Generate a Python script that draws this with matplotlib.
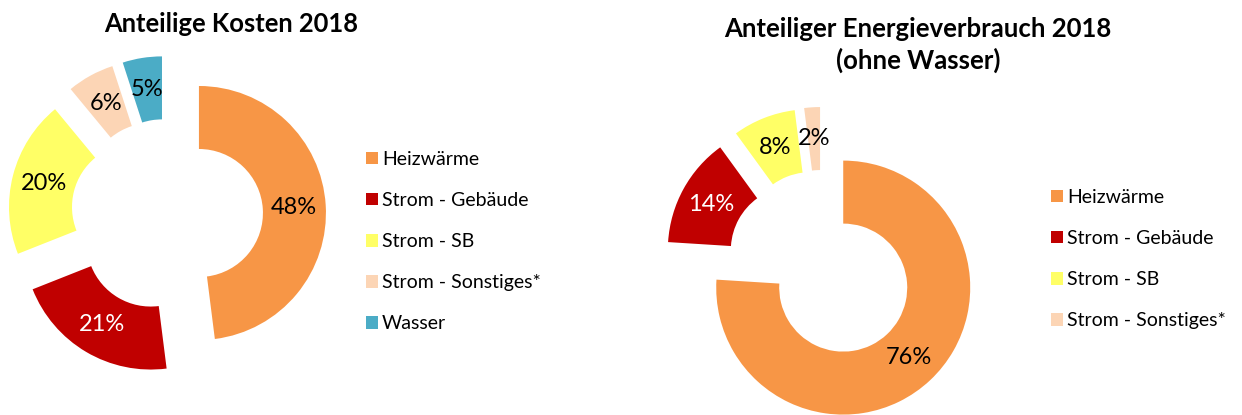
import matplotlib.pyplot as plt
from matplotlib.patches import Patch

plt.rcParams['font.family'] = ['Lato', 'DejaVu Sans']

# data
cat_kosten = ['Heizwärme', 'Strom - Gebäude', 'Strom - SB', 'Strom - Sonstiges*', 'Wasser']
val_kosten = [48, 21, 20, 6, 5]
cat_energie = ['Heizwärme', 'Strom - Gebäude', 'Strom - SB', 'Strom - Sonstiges*']
val_energie = [76, 14, 8, 2]

farben = ['#F79646', '#C00000', '#FFFF66', '#FCD5B5', '#4BACC6']
textfarben = ['black', 'white', 'black', 'black', 'black']

W, H = 1242, 415
fig = plt.figure(figsize=(W / 100, H / 100), dpi=100)


def donut(ax, vals, cats, center, expl, legend_xy):
    n = len(vals)
    wedges, texts, autotexts = ax.pie(
        vals, colors=farben[:n], startangle=90, counterclock=False,
        center=center, radius=127, explode=[expl] * n,
        wedgeprops={'width': 63, 'linewidth': 0},
        autopct='%.0f%%', pctdistance=0.75, frame=True,
        textprops={'fontsize': 17})
    for t, c in zip(autotexts, textfarben):
        t.set_color(c)
    handles = [Patch(facecolor=f, edgecolor='none') for f in farben[:n]]
    ax.legend(handles, cats, loc='upper left', bbox_to_anchor=legend_xy,
              bbox_transform=ax.transData, frameon=False, fontsize=14,
              handlelength=0.6, handleheight=0.6, handletextpad=0.22,
              labelspacing=1.24, borderpad=0, borderaxespad=0)


ax1 = fig.add_axes([0, 0, 621 / W, 1])
ax2 = fig.add_axes([621 / W, 0, 621 / W, 1])

donut(ax1, val_kosten, cat_kosten, (167, H - 215), 32, (366, H - 151))
donut(ax2, val_energie, cat_energie, (822, H - 265), 31, (1051, H - 189))

ax1.set_xlim(0, 621)
ax2.set_xlim(621, W)
for ax in (ax1, ax2):
    ax.set_ylim(0, H)
    ax.set_aspect('auto')
    ax.axis('off')

ax1.text(231, H - 24, 'Anteilige Kosten 2018', ha='center', va='center',
         fontsize=18.4, fontweight='bold')
ax2.text(918, H - 45, 'Anteiliger Energieverbrauch 2018\n(ohne Wasser)',
         ha='center', va='center', fontsize=18.5, fontweight='bold',
         linespacing=1.3)

fig.savefig('out.png', dpi=100)
